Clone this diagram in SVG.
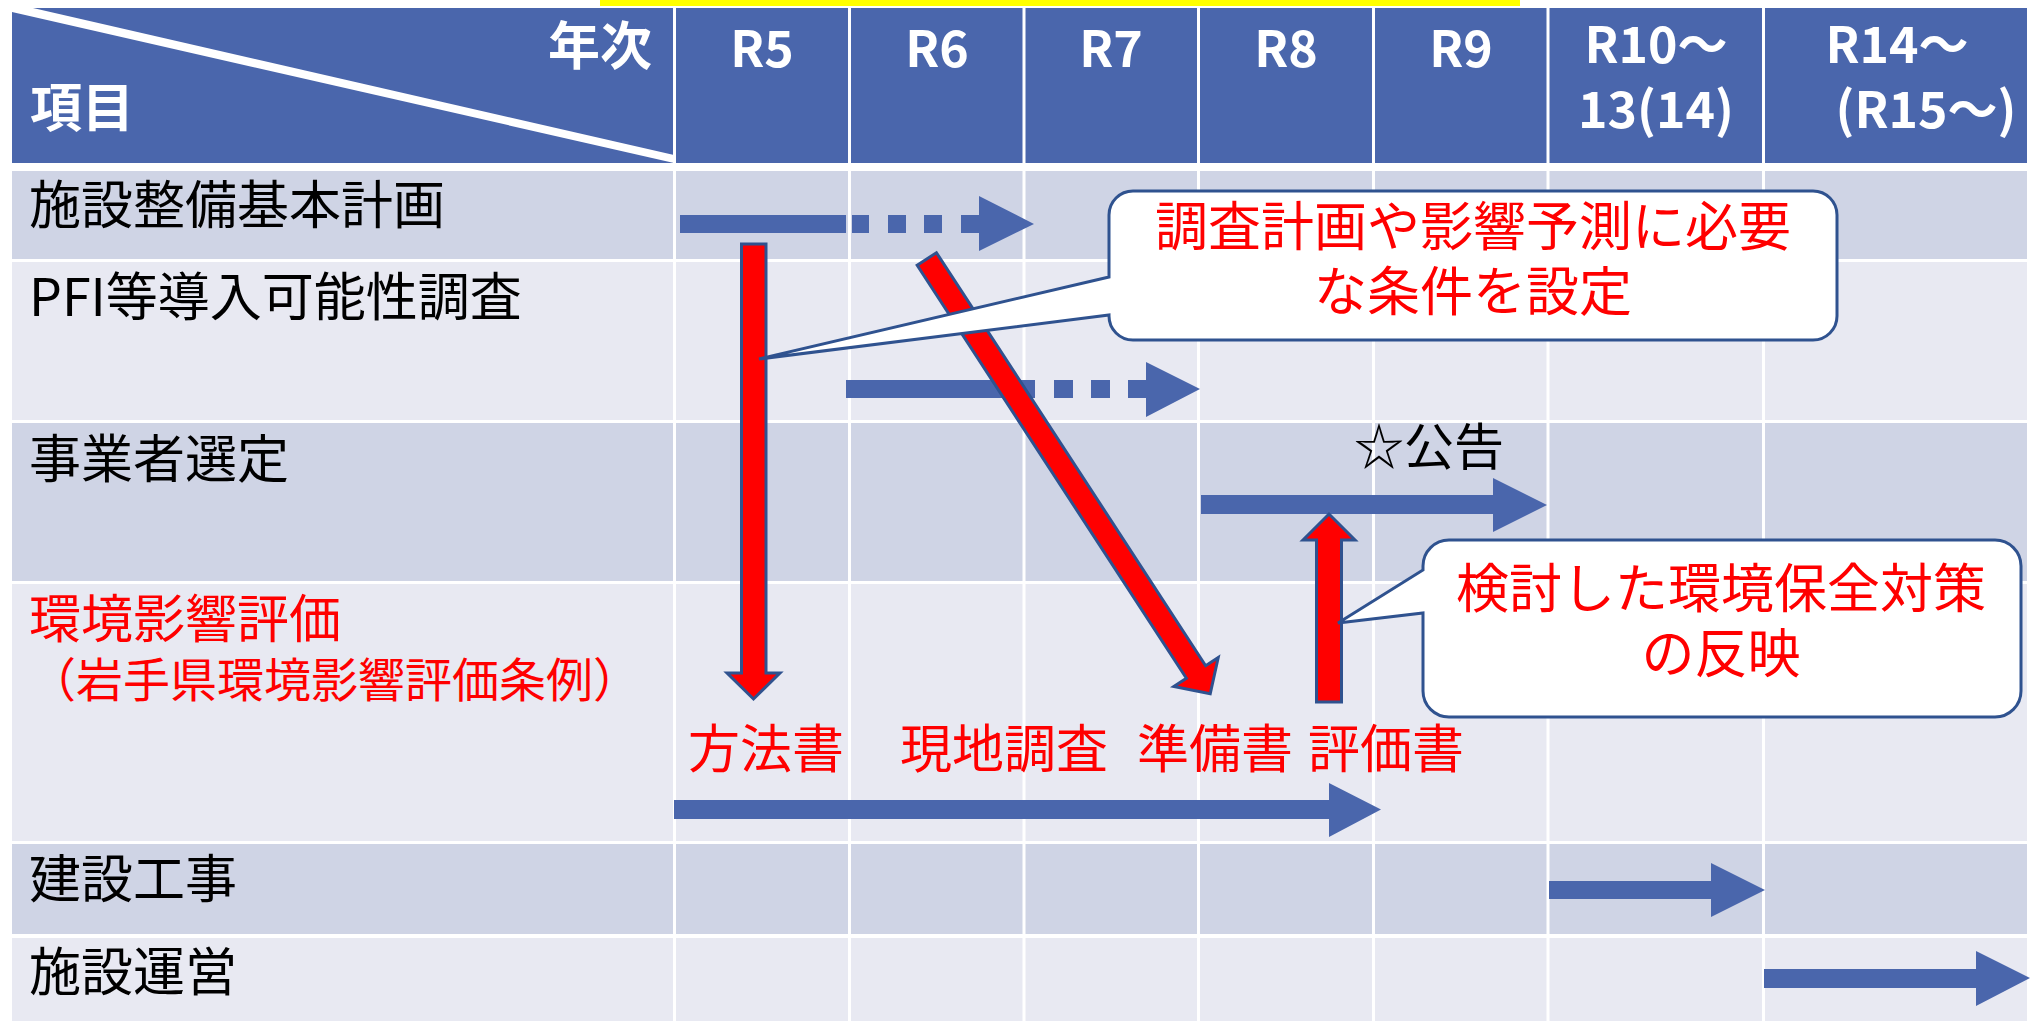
<svg xmlns="http://www.w3.org/2000/svg" width="2037" height="1021" viewBox="0 0 2037 1021">
<style>
.hb{fill:#4A66AC}
.rd{fill:#CFD4E5}
.rl{fill:#E8E9F2}
.div{stroke:#FFFFFF;stroke-width:3}
.hdr{font-family:"Noto Sans CJK JP","Noto Sans",sans-serif;font-weight:bold;fill:#FFFFFF;font-size:52px}
.yr{font-family:"Noto Sans CJK JP","Noto Sans",sans-serif;font-weight:bold;fill:#FFFFFF;font-size:50px;text-anchor:middle}
.lbl{font-family:"Noto Sans CJK JP",sans-serif;font-size:52px;fill:#000000}
.red{fill:#FF0000}
.ba{fill:#4A66AC}
.ra{fill:#FF0000;stroke:#2F528F;stroke-width:3;stroke-linejoin:miter}
.co{fill:#FFFFFF;stroke:#2F528F;stroke-width:3}
.ct{font-family:"Noto Sans CJK JP",sans-serif;font-size:53px;fill:#FF0000;text-anchor:middle}
</style>
<rect x="0" y="0" width="2037" height="1021" fill="#FFFFFF"/>
<rect x="600" y="0" width="920" height="6" fill="#FFFF00"/>

<g id="table">
  <rect class="hb" x="12" y="8" width="2015" height="155"/>
  <polygon points="12,8 33,8 674,155 674,163 12,12" fill="#FFFFFF"/>
  <rect class="rd" x="12" y="171" width="2015" height="88"/>
  <rect class="rl" x="12" y="262" width="2015" height="158"/>
  <rect class="rd" x="12" y="423" width="2015" height="158"/>
  <rect class="rl" x="12" y="584" width="2015" height="257"/>
  <rect class="rd" x="12" y="844" width="2015" height="90"/>
  <rect class="rl" x="12" y="938" width="2015" height="83"/>
  <g class="div">
    <line x1="674.5" y1="8" x2="674.5" y2="1021"/>
    <line x1="849.5" y1="8" x2="849.5" y2="1021"/>
    <line x1="1024" y1="8" x2="1024" y2="1021"/>
    <line x1="1198.5" y1="8" x2="1198.5" y2="1021"/>
    <line x1="1373.5" y1="8" x2="1373.5" y2="1021"/>
    <line x1="1548" y1="8" x2="1548" y2="1021"/>
    <line x1="1763.5" y1="8" x2="1763.5" y2="1021"/>
  </g>
</g>

<g id="header">
  <text class="hdr" x="652" y="65" text-anchor="end">年次</text>
  <text class="hdr" x="30" y="127">項目</text>
  <text class="yr" x="762" y="67">R5</text>
  <text class="yr" x="937" y="67">R6</text>
  <text class="yr" x="1111" y="67">R7</text>
  <text class="yr" x="1286" y="67">R8</text>
  <text class="yr" x="1461" y="67">R9</text>
  <text class="yr" x="1656" y="63">R10〜</text>
  <text class="yr" x="1656" y="128">13(14)</text>
  <text class="yr" x="1897" y="63">R14〜</text>
  <text class="yr" x="1926" y="128">(R15〜)</text>
</g>

<g id="row-labels">
  <text id="lbl-kihon" class="lbl" x="29" y="224">施設整備基本計画</text>
  <text id="lbl-pfi" class="lbl" x="29" y="316">PFI等導入可能性調査</text>
  <text id="lbl-senntei" class="lbl" x="29" y="478">事業者選定</text>
  <text id="lbl-eia" class="lbl red" x="29" y="638">環境影響評価</text>
  <text id="lbl-eia2" class="lbl red" x="29" y="697" style="font-size:47px">（岩手県環境影響評価条例）</text>
  <text id="lbl-kouji" class="lbl" x="29" y="898">建設工事</text>
  <text id="lbl-unei" class="lbl" x="29" y="991">施設運営</text>
</g>

<g id="connectors">
  <g id="arrow-kihon" class="ba">
    <rect x="680" y="215" width="166" height="18"/>
    <rect x="852" y="215" width="17" height="18"/>
    <rect x="888" y="215" width="18" height="18"/>
    <rect x="924" y="215" width="18" height="18"/>
    <polygon points="961,215 979,215 979,196 1034,224 979,251 979,233 961,233"/>
  </g>
  <g id="arrow-pfi" class="ba">
    <rect x="846" y="380" width="189" height="18"/>
    <rect x="1054" y="380" width="19" height="18"/>
    <rect x="1091" y="380" width="19" height="18"/>
    <polygon points="1128,380 1146,380 1146,362 1200,389 1146,417 1146,398 1128,398"/>
  </g>
  <polygon id="arrow-sentei" class="ba" points="1201,495 1493,495 1493,478 1547,505 1493,532 1493,514 1201,514"/>
  <polygon id="arrow-eia" class="ba" points="674,800 1329,800 1329,783 1381,809.5 1329,837 1329,819 674,819"/>
  <polygon id="arrow-kouji" class="ba" points="1549,881 1711,881 1711,863 1765,890 1711,917 1711,899 1549,899"/>
  <polygon id="arrow-unei" class="ba" points="1764,969 1976,969 1976,951 2030,978 1976,1006 1976,988 1764,988"/>
  <polygon id="arrow-houhou" class="ra" points="741.5,244 766,244 766,673 780,673 753.5,699 727,673 741.5,673"/>
  <polygon id="arrow-junbi" class="ra" transform="translate(926.8,259) rotate(-33.1)" points="-11.5,0 11.5,0 11.5,493 26.5,493 0,519 -26.5,493 -11.5,493"/>
  <polygon id="arrow-hyouka" class="ra" points="1316.5,702 1341.5,702 1341.5,540 1355,540 1329,514 1303,540 1316.5,540"/>
</g>

<g id="stage-labels" class="lbl red">
  <text x="688" y="768">方法書</text>
  <text x="900" y="768">現地調査</text>
  <text x="1137" y="768">準備書</text>
  <text x="1308" y="768">評価書</text>
</g>

<g id="koukoku">
  <text class="lbl" x="1354" y="465" style="font-size:50px">☆公告</text>
</g>

<g id="callout-1">
  <path class="co" d="M1133,191 H1813 A24,24 0 0 1 1837,215 V316 A24,24 0 0 1 1813,340 H1133 A24,24 0 0 1 1109,316 V315 L759,359 L1109,277 V215 A24,24 0 0 1 1133,191 Z"/>
  <text class="ct" x="1473" y="246">調査計画や影響予測に必要</text>
  <text class="ct" x="1473" y="311">な条件を設定</text>
</g>

<g id="callout-2">
  <path class="co" d="M1449,540 H1995 A26,26 0 0 1 2021,566 V691 A26,26 0 0 1 1995,717 H1449 A26,26 0 0 1 1423,691 V613 L1338,623 L1423,570 V566 A26,26 0 0 1 1449,540 Z"/>
  <text class="ct" x="1721" y="608">検討した環境保全対策</text>
  <text class="ct" x="1721" y="673">の反映</text>
</g>
</svg>
